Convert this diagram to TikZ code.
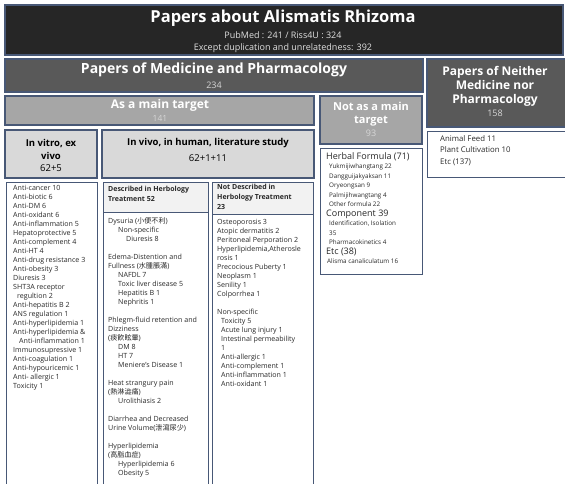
\documentclass[tikz,border=0pt]{standalone}
\usepackage{fontspec}
\setmainfont{Open Sans}
\newfontfamily\cjk{Noto Sans CJK KR}
\definecolor{edgeblue}{RGB}{72,88,118}
\definecolor{topfill}{RGB}{38,38,38}
\definecolor{darkfill}{RGB}{89,89,89}
\definecolor{midfill}{RGB}{166,166,166}
\definecolor{lightfill}{RGB}{217,217,217}
\definecolor{headfill}{RGB}{242,242,242}
\definecolor{numgray}{RGB}{215,215,215}
\definecolor{listtext}{RGB}{40,40,40}

\begin{document}
\begin{tikzpicture}[x=1pt,y=-1pt,
  box/.style={draw=edgeblue,line width=1.2pt},
  openbox/.style={draw=edgeblue,line width=0.9pt},
  every node/.style={inner sep=0pt},
  title/.style={align=center,text=white,font=\bfseries\fontsize{#1}{14}\selectfont},
  sub/.style={align=center,text=numgray,font=\fontsize{9}{12}\selectfont},
  listing/.style={anchor=north west,align=left,text=listtext,font=\fontsize{7.1}{9}\selectfont},
  headtxt/.style={anchor=north west,align=left,text=listtext,font=\bfseries\fontsize{7}{10}\selectfont}]
\useasboundingbox (0,0) rectangle (565,484);
\fill [white] (0,0) rectangle (565,484);
% header row
\draw [box,fill=topfill] (5,5) rectangle (563,55);
\node (alisma) [title=16.5] at (283,18) {Papers about Alismatis Rhizoma};
\node (pubmed) [sub,text=white!88!black] at (283,35) {PubMed : 241 / Riss4U : 324};
\node (except) [sub,text=white!88!black] at (283,48) {Except duplication and unrelatedness: 392};
% second row
\draw [box,fill=darkfill] (5,59) rectangle (423,92);
\node (medpharm) [title=14] at (214,70) {Papers of Medicine and Pharmacology};
\node (medcount) [sub] at (214,85) {234};
\draw [box,fill=darkfill] (427,59) rectangle (567,127);
\node (neither) [title=12] at (495,86) {Papers of Neither\\Medicine nor\\Pharmacology};
\node (neithercount) [sub] at (495,113) {158};
% third row
\draw [box,fill=midfill] (5,96) rectangle (314,125);
\node (maintarget) [title=12] at (160,105) {As a main target};
\node (maincount) [sub,font=\fontsize{8.5}{10}\selectfont] at (160,118) {141};
\draw [box,fill=midfill] (320,96) rectangle (422,144);
\node (notmain) [title=11,font=\bfseries\fontsize{11}{13}\selectfont] at (371,114) {Not as a main\\target};
\node (notmaincount) [sub,font=\fontsize{9}{10}\selectfont] at (371,133) {93};
% fourth row
\draw [box,fill=lightfill] (5,130) rectangle (97,178);
\node (invitro) [align=center,font=\bfseries\fontsize{9.5}{13}\selectfont] at (51,149) {In vitro, ex\\vivo};
\node (invitrocount) [font=\fontsize{9.5}{12}\selectfont] at (51,168) {62+5};
\draw [box,fill=lightfill] (102,130) rectangle (314,178);
\node (invivo) [font=\bfseries\fontsize{9.5}{12}\selectfont] at (208,143) {In vivo, in human, literature study};
\node (invivocount) [font=\fontsize{9.5}{12}\selectfont] at (208,158) {62+1+11};
\draw [openbox] (427,131) rectangle (567,177);
\node (nonmed) [listing,font=\fontsize{7.8}{11.5}\selectfont] at (440,135) {Animal Feed 11\\Plant Cultivation 10\\Etc (137)};
% lists
\draw [openbox] (6,485) -- (6,182) -- (97,182) -- (97,485);
\node (vitrolist) [listing] at (13,185) {Anti-cancer 10\\Anti-biotic 6\\Anti-DM 6\\Anti-oxidant 6\\Anti-inflammation 5\\Hepatoprotective 5\\Anti-complement 4\\Anti-HT 4\\Anti-drug resistance 3\\Anti-obesity 3\\Diuresis 3\\SHT3A receptor\\\hspace*{4pt}regultion 2\\Anti-hepatitis B 2\\ANS regulation 1\\Anti-hyperlipidemia 1\\Anti-hyperlipidemia \&\\\hspace*{6pt}Anti-inflammation 1\\Immunosupressive 1\\Anti-coagulation 1\\Anti-hypouricemic 1\\Anti- allergic 1\\Toxicity 1};
\fill [headfill] (103,182) rectangle (208,212);
\draw [openbox] (103,212) -- (208,212);
\draw [openbox] (103,485) -- (103,182) -- (208,182) -- (208,485);
\node (deschead) [headtxt] at (108,186) {Described in Herbology\\Treatment 52};
\node (desclist) [listing] at (108,217) {Dysuria ({\cjk 小便不利})\\\hspace*{10pt}Non-specific\\\hspace*{18pt}Diuresis 8\\[9pt]Edema-Distention and\\Fullness ({\cjk 水腫脹滿})\\\hspace*{10pt}NAFDL 7\\\hspace*{10pt}Toxic liver disease 5\\\hspace*{10pt}Hepatitis B 1\\\hspace*{10pt}Nephritis 1\\[9pt]Phlegm-fluid retention and\\Dizziness\\({\cjk 痰飮眩暈})\\\hspace*{10pt}DM 8\\\hspace*{10pt}HT 7\\\hspace*{10pt}Meniere's Disease 1\\[9pt]Heat strangury pain\\({\cjk 熱淋澁痛})\\\hspace*{10pt}Urolithiasis 2\\[9pt]Diarrhea and Decreased\\Urine Volume({\cjk 泄瀉尿少})\\[9pt]Hyperlipidemia\\({\cjk 高脂血症})\\\hspace*{10pt}Hyperlipidemia 6\\\hspace*{10pt}Obesity 5};
\fill [headfill] (212,182) rectangle (313,214);
\draw [openbox] (212,214) -- (313,214);
\draw [openbox] (212,485) -- (212,182) -- (313,182) -- (313,485);
\node (notdeschead) [headtxt] at (217,184) {Not Described in\\Herbology Treatment\\23};
\node (notdesclist) [listing] at (217,219) {Osteoporosis 3\\Atopic dermatitis 2\\Peritoneal Perporation 2\\Hyperlipidemia,Atherosle\\rosis 1\\Precocious Puberty 1\\Neoplasm 1\\Senility 1\\Colporrhea 1\\[9pt]Non-specific\\\hspace*{4pt}Toxicity 5\\\hspace*{4pt}Acute lung injury 1\\\hspace*{4pt}Intestinal permeability\\\hspace*{4pt}1\\\hspace*{4pt}Anti-allergic 1\\\hspace*{4pt}Anti-complement 1\\\hspace*{4pt}Anti-inflammation 1\\\hspace*{4pt}Anti-oxidant 1};
\draw [openbox] (320,148) rectangle (422,274);
\node (herbal) [listing,font=\fontsize{6.3}{9.5}\selectfont] at (326,152) {{\fontsize{9}{9.5}\selectfont Herbal Formula (71)}\\\hspace*{3pt}Yukmijiwhangtang 22\\\hspace*{3pt}Dangguijakyaksan 11\\\hspace*{3pt}Oryeongsan 9\\\hspace*{3pt}Palmijihwangtang 4\\\hspace*{3pt}Other formula 22\\{\fontsize{9}{9.5}\selectfont Component 39}\\\hspace*{3pt}Identification, Isolation\\\hspace*{3pt}35\\\hspace*{3pt}Pharmacokinetics 4\\{\fontsize{9}{9.5}\selectfont Etc (38)}\\\hspace*{1pt}Alisma canaliculatum 16};
\end{tikzpicture}
\end{document}
